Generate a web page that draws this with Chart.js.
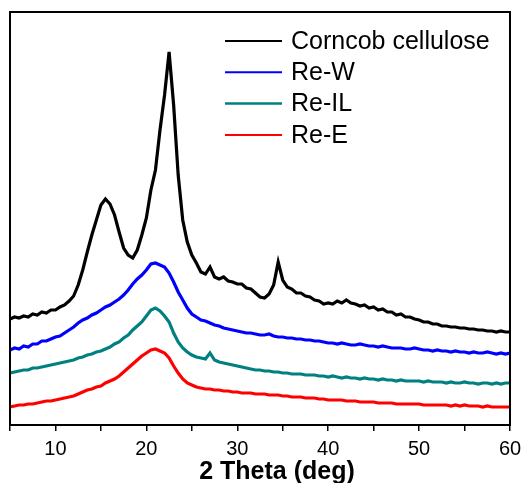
<!DOCTYPE html>
<html>
<head>
<meta charset="utf-8">
<script src="https://cdn.jsdelivr.net/npm/chart.js@4"></script>
<style>
  html, body { margin: 0; padding: 0; background: #fff; }
  #wrap { width: 527px; height: 483px; }
</style>
</head>
<body>
<div id="wrap"><canvas id="xrd"></canvas></div>
<script>
// 2 theta (deg)
var theta = [5,5.5,6,6.5,7,7.5,8,8.5,9,9.5,10,10.5,11,11.5,12,12.5,13,13.5,14,14.5,
  15,15.5,16,16.5,17,17.5,18,18.5,19,19.5,20,20.5,21,21.5,22,22.5,23,23.5,24,24.5,
  25,25.5,26,26.5,27,27.5,28,28.5,29,29.5,30,30.5,31,31.5,32,32.5,33,33.5,34,34.5,
  35,35.5,36,36.5,37,37.5,38,38.5,39,39.5,40,40.5,41,41.5,42,42.5,43,43.5,44,44.5,
  45,45.5,46,46.5,47,47.5,48,48.5,49,49.5,50,50.5,51,51.5,52,52.5,53,53.5,54,54.5,
  55,55.5,56,56.5,57,57.5,58,58.5,59,59.5,60];

// intensity, stacked offsets as in the figure (a.u.)
var corncob = [106,108,107,109,108,111,110,113,112,115,115,118,120,124,129,140,155,173,190,205,
  220,226,221,210,193,177,170,167,175,190,207,235,255,295,330,373,320,250,205,183,
  170,162,153,151,158,148,146,148,144,143,141,141,137,136,132,128,127,131,140,163,
  145,138,136,132,132,129,128,125,124,121,122,121,124,122,125,122,121,119,120,117,
  118,115,116,113,113,110,111,108,108,106,105,103,103,101,101,99,99,98,98,97,
  97,96,96,95,95,94,94,93,94,93,93];
var reW = [75,77,76,79,78,81,81,84,84,86,88,89,92,95,98,102,105,107,110,112,
  115,118,120,123,126,130,135,141,146,150,155,161,162,160,158,152,143,133,125,117,
  111,108,105,104,102,100,99,97,96,95,94,93,92,92,91,90,90,91,89,88,
  88,87,87,86,86,85,85,84,84,83,82,82,81,82,81,80,80,81,80,79,
  79,78,79,78,77,77,77,76,76,77,76,75,75,74,75,74,74,73,74,73,
  73,72,73,72,72,73,72,71,72,71,72];
var reIL = [52,53,54,55,55,57,57,58,59,60,61,62,63,64,65,67,68,70,71,73,
  74,76,78,81,83,87,90,95,99,103,109,115,117,114,109,103,92,83,77,73,
  70,68,67,66,72,65,63,62,61,60,59,58,57,56,55,55,54,54,53,53,
  52,52,51,51,51,50,50,50,49,49,48,49,48,47,48,47,47,46,47,46,
  46,45,46,45,45,44,45,44,44,44,44,43,44,43,43,43,42,43,42,42,
  43,42,42,41,42,42,41,42,41,42,42];
var reE = [18,19,20,20,21,21,22,23,24,24,25,26,27,28,29,31,33,35,36,38,
  39,42,44,46,49,53,57,61,65,69,72,75,76,74,72,67,59,52,46,42,
  40,38,37,36,36,35,35,34,34,33,33,32,32,32,31,31,31,30,30,30,
  29,29,28,28,28,27,27,27,26,26,25,25,25,25,24,24,24,23,23,23,
  23,22,22,22,22,21,21,21,21,21,21,20,20,20,20,20,20,19,20,19,
  20,19,19,19,18,19,18,18,18,18,18];

var seriesNames = ["Corncob cellulose", "Re-W", "Re-IL", "Re-E"];
var seriesColors = ["#000000", "#0000ff", "#008080", "#ff0000"];
var xTicks = [10, 20, 30, 40, 50, 60];

// frame, legend and x title drawn on top
var decor = {
  id: "decor",
  afterDraw: function(chart) {
    var c = chart.ctx, a = chart.chartArea;
    c.save();
    c.strokeStyle = "#000";
    c.lineWidth = 2;
    c.strokeRect(a.left, a.top, a.right - a.left, a.bottom - a.top);

    c.font = "25px 'Liberation Sans', Arial, sans-serif";
    c.textBaseline = "middle";
    c.textAlign = "left";
    chart.data.datasets.forEach(function(ds, i) {
      var y = 41 + i * 31.3;
      c.beginPath();
      c.strokeStyle = ds.borderColor;
      c.lineWidth = i == 2 ? 2.5 : 2;
      c.moveTo(225, y);
      c.lineTo(282, y);
      c.stroke();
      c.fillStyle = "#000";
      c.fillText(ds.label, 291, y + 1);
    });

    c.font = "bold 25px 'Liberation Sans', Arial, sans-serif";
    c.textAlign = "center";
    c.textBaseline = "alphabetic";
    c.fillText("2 Theta (deg)", 277, 479);
    c.restore();
  }
};

var ctx = document.getElementById("xrd").getContext("2d");
var chart = new Chart(ctx, {
  type: "line",
  data: {
    labels: theta,
    datasets: [corncob, reW, reIL, reE].map(function(d, i) {
      return {
        label: seriesNames[i],
        data: d,
        borderColor: seriesColors[i],
        borderWidth: 3.2,
        pointRadius: 0,
        tension: 0,
        fill: false
      };
    })
  },
  options: {
    responsive: true,
    maintainAspectRatio: false,
    animation: false,
    layout: { padding: { left: 10, right: 17, top: 12, bottom: 0 } },
    plugins: { legend: { display: false }, tooltip: { enabled: false } },
    scales: {
      x: {
        type: "linear",
        min: 5,
        max: 60,
        afterFit: function(s) {
          s.height = 58;
          s.paddingLeft = 0;
          s.paddingRight = 0;
        },
        border: { display: true, color: "#000", width: 2 },
        grid: { drawOnChartArea: false, drawTicks: true, tickLength: 6, color: "#000", lineWidth: 1.5 },
        ticks: {
          stepSize: 5,
          autoSkip: false,
          maxRotation: 0,
          padding: 6,
          color: "#000",
          font: { family: "'Liberation Sans', Arial, sans-serif", size: 20 },
          callback: function(v) { return xTicks.indexOf(v) >= 0 ? String(v) : ""; }
        }
      },
      y: {
        display: false,
        min: 0,
        max: 413
      }
    }
  },
  plugins: [decor]
});
</script>
</body>
</html>
